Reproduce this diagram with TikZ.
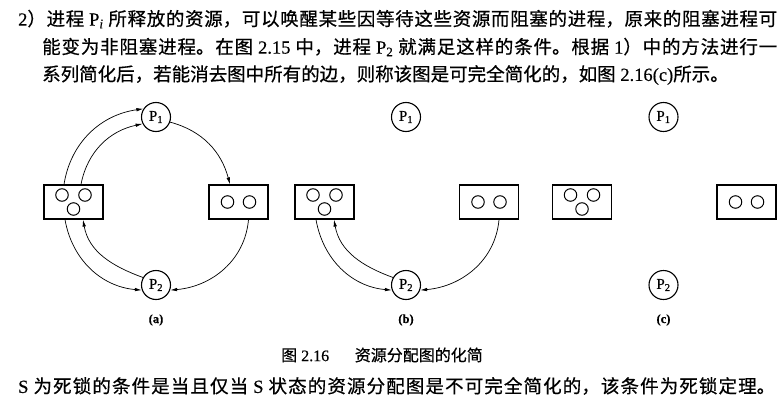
\documentclass[tikz,border=0pt]{standalone}
\usepackage{fontspec}
\setmainfont{Liberation Serif}[FakeBold=0.4]
\newfontfamily\cjk{Noto Sans CJK SC}[FakeBold=0.6]
\usetikzlibrary{arrows.meta}
\XeTeXlinebreaklocale "zh"
\XeTeXlinebreakskip=0pt plus 6pt
\XeTeXlinebreakpenalty=10000
\newcommand{\zh}[1]{{\cjk #1}}
\begin{document}
\begin{tikzpicture}[x=1pt,y=1pt,
  body/.style={inner sep=0pt, anchor=west, font=\fontsize{18.5}{26}\selectfont},
  capt/.style={inner sep=0pt, font=\fontsize{16}{18}\selectfont},
  proc/.style={circle, draw, line width=1.1pt, minimum size=29pt, inner sep=0pt, font=\fontsize{15}{15}\selectfont},
  res/.style={draw, line width=1.2pt, minimum width=59pt, minimum height=34pt, inner sep=0pt},
  unit/.style={circle, draw, line width=1pt, minimum size=12.5pt, inner sep=0pt},
  edge/.style={line width=0.7pt, -{Latex[length=7pt,width=3.5pt]}},
  lbl/.style={inner sep=0pt, font=\fontsize{12.5}{12.5}\selectfont\bfseries}]
\useasboundingbox (0,0) rectangle (783,-404);

% ---------- text ----------
\node[body, text width=759pt, align=justify] (t1) at (18,-19)
  {\parindent=0pt\parfillskip=0pt 2\zh{）进程}~P\textsubscript{\textit{i}}~\zh{所释放的资源，可以唤醒某些因等待这些资源而阻塞的进程，原来的阻塞进程可}\par};
\node[body, text width=735pt, align=justify] (t2) at (42,-47)
  {\parindent=0pt\parfillskip=0pt \zh{能变为非阻塞进程。在图}~2.15~\zh{中，进程}~P\textsubscript{2}~\zh{就满足这样的条件。根据}~1\zh{）中的方法进行一}\par};
\node[body] (t3) at (42,-75)
  {\zh{系列简化后，若能消去图中所有的边，则称该图是可完全简化的，如图}~2.16(c)\zh{所示。}};
\node[capt] (cap) at (382,-355) {\zh{图}~2.16\hspace{1.6em}\zh{资源分配图的化简}};
\node[body, text width=757pt, align=justify] (t4) at (18,-386)
  {\parindent=0pt\parfillskip=0pt S~\zh{为死锁的条件是当且仅当}~S~\zh{状态的资源分配图是不可完全简化的，该条件为死锁定理。}\par};

% ---------- (a) ----------
\node[proc] (P1a) at (156,-117) {P\textsubscript{1}};
\node[proc] (P2a) at (156,-285) {P\textsubscript{2}};
\node[res] (La) at (73.5,-202) {};
\node[unit] (La1) at (62,-195) {};
\node[unit] (La2) at (85,-195) {};
\node[unit] (La3) at (73.5,-209) {};
\node[res] (Ra) at (238.5,-202) {};
\node[unit] (Ra1) at (227.5,-202) {};
\node[unit] (Ra2) at (249.5,-202) {};
\node[lbl] (la) at (156,-320) {(a)};
\draw[edge] ([xshift=-9.5pt]La.north) to[out=81,in=188] (P1a.147);
\draw[edge] ([xshift=7.5pt]La.north) to[out=79,in=192] (P1a.207);
\draw[edge] (P1a.-20) to[out=-15,in=105] ([xshift=-8.5pt]Ra.north);
\draw[edge] ([xshift=10pt]Ra.south) to[out=-95,in=5] (P2a.-20);
\draw[edge] ([xshift=-8.5pt]La.south) to[out=-80,in=175] (P2a.200);
\draw[edge] (P2a.150) to[out=160,in=-80] ([xshift=9.5pt]La.south);

% ---------- (b) ----------
\node[proc] (P1b) at (406,-117) {P\textsubscript{1}};
\node[proc] (P2b) at (406,-285) {P\textsubscript{2}};
\node[res] (Lb) at (324.5,-202) {};
\node[unit] (Lb1) at (313,-195) {};
\node[unit] (Lb2) at (336,-195) {};
\node[unit] (Lb3) at (324.5,-209) {};
\node[res] (Rb) at (489,-202) {};
\node[unit] (Rb1) at (478,-202) {};
\node[unit] (Rb2) at (500,-202) {};
\node[lbl] (lb) at (406,-320) {(b)};
\draw[edge] ([xshift=10pt]Rb.south) to[out=-95,in=5] (P2b.-20);
\draw[edge] ([xshift=-8.5pt]Lb.south) to[out=-80,in=175] (P2b.200);
\draw[edge] (P2b.150) to[out=160,in=-80] ([xshift=9.5pt]Lb.south);

% ---------- (c) ----------
\node[proc] (P1c) at (663.5,-117) {P\textsubscript{1}};
\node[proc] (P2c) at (663.5,-285) {P\textsubscript{2}};
\node[res] (Lc) at (582,-202) {};
\node[unit] (Lc1) at (570.5,-195) {};
\node[unit] (Lc2) at (593.5,-195) {};
\node[unit] (Lc3) at (582,-209) {};
\node[res] (Rc) at (746.5,-202) {};
\node[unit] (Rc1) at (735.5,-202) {};
\node[unit] (Rc2) at (757.5,-202) {};
\node[lbl] (lc) at (663.5,-320) {(c)};
\end{tikzpicture}
\end{document}
